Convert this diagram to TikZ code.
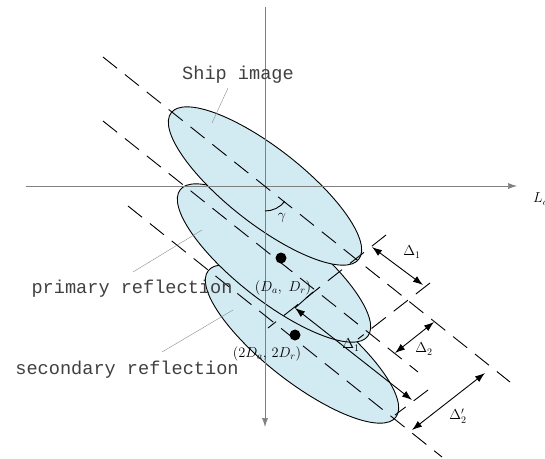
\documentclass[tikz,border=0pt]{standalone}
\usepackage{fontspec}
\newfontfamily\monolabel{Liberation Mono}
\usetikzlibrary{arrows.meta}
\definecolor{echofill}{RGB}{210,234,241}

\begin{document}
\begin{tikzpicture}[x=1pt, y=-1pt,
  every node/.style={inner sep=0pt},
  echo/.style={draw=black, line width=0.9pt, fill=echofill},
  axisline/.style={draw=black!50, line width=0.7pt, -{Latex[length=9pt,width=6pt]}},
  guide/.style={line width=0.9pt, dash pattern=on 18pt off 10pt},
  dim/.style={line width=0.9pt, {Latex[length=10pt,width=7pt]}-{Latex[length=10pt,width=7pt]}},
  leader/.style={draw=black!45, line width=0.4pt},
  tag/.style={font=\monolabel\fontsize{18.6}{20}\selectfont, text=black!75},
  sym/.style={font=\fontsize{14}{16}\selectfont}]
\useasboundingbox (0,0) rectangle (545,458);

% echoes, back to front
\coordinate (sec) at (302,344);
\coordinate (prim) at (274,263);
\coordinate (ship) at (265,186);
\draw[echo, shift={(sec)}, rotate=-38] (0,0) ellipse [x radius=119, y radius=38];
\draw[echo, shift={(prim)}, rotate=-38] (0,0) ellipse [x radius=119, y radius=38];
\draw[echo, shift={(ship)}, rotate=-38] (0,0) ellipse [x radius=119, y radius=38];

% axes
\coordinate (xl) at (26,186);
\coordinate (xr) at (517,186);
\coordinate (yt) at (265,7);
\coordinate (yb) at (265,427);
\draw[axisline] (xl) -- (xr);
\draw[axisline] (yt) -- (yb);
\node[sym, anchor=west] (La) at (533,199) {$L_a$};

% guides
\coordinate (p1a) at (103,57);
\coordinate (p1b) at (510,382);
\coordinate (p2a) at (103,121);
\coordinate (p2b) at (418,372);
\coordinate (p3a) at (128,206);
\coordinate (p3b) at (442,457);
\coordinate (q1a) at (386,235);
\coordinate (q1b) at (268,328);
\coordinate (q2a) at (430,283);
\coordinate (q2b) at (358,339);
\coordinate (q4a) at (428,390);
\coordinate (q4b) at (395,415);
\draw[guide] (p1a) -- (p1b);
\draw[guide] (p2a) -- (p2b);
\draw[guide] (p3a) -- (p3b);
\draw[guide] (q1a) -- (q1b);
\draw[guide] (q2a) -- (q2b);
\draw[guide] (q4a) -- (q4b);

% dimensions
\coordinate (d1s) at (372,247);
\coordinate (d1e) at (423,285);
\coordinate (d2s) at (395,353);
\coordinate (d2e) at (434,322);
\coordinate (d3s) at (412,430);
\coordinate (d3e) at (485,373);
\coordinate (dls) at (295,308);
\coordinate (dle) at (412,400);
\coordinate (dlk) at (313,292);
\draw[dim] (d1s) -- (d1e);
\draw[dim] (d2s) -- (d2e);
\draw[dim] (d3s) -- (d3e);
\draw[dim] (dls) -- (dle);
\draw[line width=0.9pt] (dls) -- (dlk);
\draw[line width=0.9pt] (265,211) arc[start angle=90, end angle=38, radius=25];

% scatter centres
\coordinate (c1) at (281,258);
\coordinate (c2) at (295,335);
\fill (c1) circle[radius=5.5];
\fill (c2) circle[radius=5.5];

% labels
\node[sym] (D1) at (412,252) {$\Delta_1$};
\node[sym] (D2) at (424,349) {$\Delta_2$};
\node[sym] (D2p) at (458,416) {$\Delta_2'$};
\node[sym] (D1low) at (351,345) {$\Delta_1$};
\node[sym] (gam) at (282,218) {$\gamma$};
\node[sym] (pt1) at (283,288) {$\bigl(D_a,\ D_r\bigr)$};
\node[sym] (pt2) at (267,354) {$\bigl(2D_a,\,2D_r\bigr)$};

\node[tag] (shiptxt) at (238,75) {Ship image};
\node[tag] (primtxt) at (132,289) {primary reflection};
\node[tag] (sectxt) at (127,370) {secondary reflection};
\coordinate (shipfoot) at (228,88);
\coordinate (shiptip) at (212,123);
\coordinate (primfoot) at (133,272);
\coordinate (primtip) at (202,230);
\coordinate (secfoot) at (162,352);
\coordinate (sectip) at (233,310);
\draw[leader] (shipfoot) -- (shiptip);
\draw[leader] (primfoot) -- (primtip);
\draw[leader] (secfoot) -- (sectip);
\end{tikzpicture}
\end{document}
